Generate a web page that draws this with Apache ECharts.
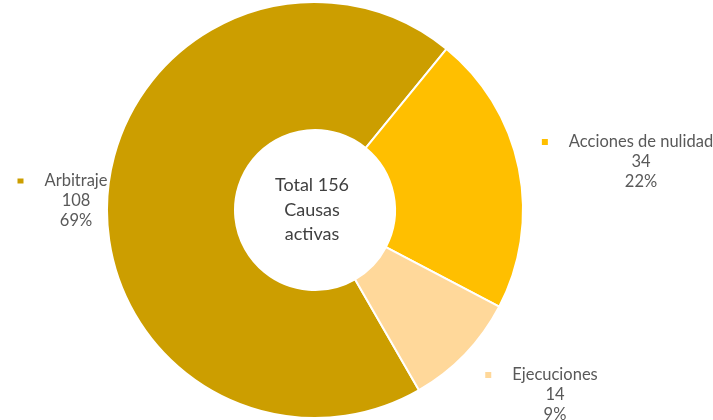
<!DOCTYPE html>
<html>
<head>
<meta charset="utf-8">
<script src="https://cdn.jsdelivr.net/npm/echarts@6/dist/echarts.min.js"></script>
<style>
html,body{margin:0;padding:0;background:#fff;}
#c{width:713px;height:420px;}
</style>
</head>
<body>
<div id="c"></div>
<script>
var categories = ['Arbitraje', 'Acciones de nulidad', 'Ejecuciones'];
var values = [108, 34, 14];
var percents = ['69%', '22%', '9%'];
var centerLines = ['Total 156', 'Causas', 'activas'];
var colors = ['#CC9E00', '#FFBF00', '#FFD89A'];

var labelPos = [
  {x: 76, y: 201},
  {x: 641, y: 162},
  {x: 555, y: 395}
];

var chart = echarts.init(document.getElementById('c'));
var data = categories.map(function (c, i) {
  return {name: c, value: values[i], itemStyle: {color: colors[i]}};
});

var font = 'Lato, "Open Sans", sans-serif';
var fs = 16.5;
chart.setOption({
  animation: false,
  series: [{
    type: 'pie',
    center: [315, 210],
    radius: [80, 208],
    startAngle: -60,
    clockwise: true,
    data: data,
    itemStyle: {borderColor: '#fff', borderWidth: 2},
    labelLine: {show: false},
    label: {
      show: true,
      position: 'outside',
      overflow: 'none',
      formatter: function (p) {
        return '{sq' + p.dataIndex + '|}{name|' + p.name + '}{sp|}\n{v|' + p.value + '}\n{v|' + percents[p.dataIndex] + '}';
      },
      color: '#595959',
      fontFamily: font,
      fontSize: fs,
      lineHeight: 20,
      align: 'center',
      rich: {
        sq0: {width: 6, height: 5, backgroundColor: colors[0]},
        sq1: {width: 6, height: 6, backgroundColor: colors[1]},
        sq2: {width: 6, height: 6, backgroundColor: colors[2]},
        name: {padding: [0, 0, 0, 21], fontSize: fs, fontFamily: font, color: '#595959', lineHeight: 20},
        sp: {width: 27},
        v: {fontSize: fs, fontFamily: font, color: '#595959', lineHeight: 20, align: 'center'}
      }
    },
    labelLayout: function (params) {
      var p = labelPos[params.dataIndex];
      return {x: p.x, y: p.y, align: 'center', verticalAlign: 'middle'};
    },
    emphasis: {disabled: true}
  }],
  graphic: [{
    type: 'text',
    x: 312,
    y: 210,
    style: {
      text: centerLines.join('\n'),
      fontSize: 18,
      lineHeight: 24.5,
      fontFamily: font,
      fill: '#404040',
      align: 'center',
      verticalAlign: 'middle'
    }
  }]
});
</script>
</body>
</html>
